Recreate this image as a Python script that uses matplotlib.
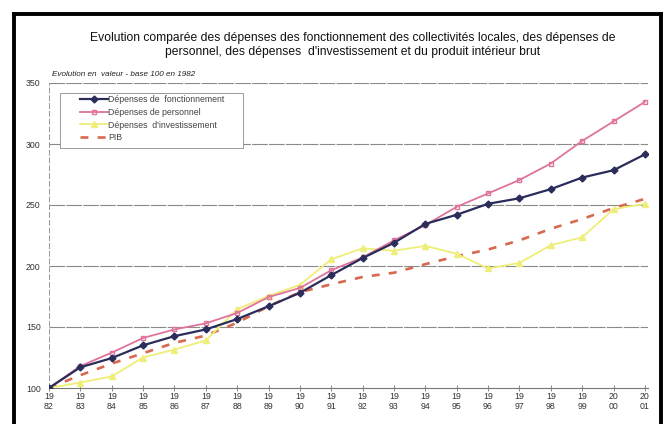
import matplotlib.pyplot as plt
from matplotlib.lines import Line2D
from matplotlib.patches import Rectangle

plt.rcParams['font.family'] = ['Liberation Sans', 'DejaVu Sans']

years = list(range(1982, 2002))
fonctionnement = [100, 117, 124.5, 135, 142.5, 148, 156.5, 167, 178, 192.5, 206.5, 219,
                  234.5, 242, 251, 255.5, 263, 272.5, 278.5, 291.5]
personnel = [100, 118, 129, 141, 148, 153, 161.5, 174.5, 182, 196.5, 207, 221,
             233.5, 248.5, 259.5, 270.5, 284, 302.5, 318.5, 334.5]
investissement = [100, 104.5, 109.5, 125, 131.5, 139, 164.5, 175.5, 184.5, 205.5, 214.5, 212.5,
                  216.5, 210, 198, 202.5, 217, 223.5, 246.5, 251]
pib = [100, 110.5, 120, 128.5, 137, 143, 153.5, 167, 178.5, 185, 191, 194.5,
       201.5, 208, 213.5, 221, 230.5, 238.5, 247.5, 255]

x_labels = [f"{str(y)[:2]}\n{str(y)[2:]}" for y in years]
y_ticks = [100, 150, 200, 250, 300, 350]

title = ("Evolution comparée des dépenses des fonctionnement des collectivités locales, des dépenses de\n"
         "personnel, des dépenses  d'investissement et du produit intérieur brut")
subtitle = "Evolution en  valeur - base 100 en 1982"
names = ["Dépenses de  fonctionnement", "Dépenses de personnel",
         "Dépenses  d'investissement", "PIB"]

c_fonc = "#2a2c5a"
c_pers = "#e0739c"
c_inv = "#eeee78"
c_pib = "#d8684e"

W, H = 664, 424
fig = plt.figure(figsize=(W / 100, H / 100), dpi=100)
ax = fig.add_axes([49 / W, 1 - 388 / H, 599 / W, 305 / H])

xs = list(range(len(years)))
ax.plot(xs, pib, color=c_pib, lw=1.9, ls=(0, (3, 3.5)), zorder=2)
ax.plot(xs, investissement, color=c_inv, lw=1.3, marker='^', ms=4, mfc=c_inv, mec=c_inv, zorder=3)
ax.plot(xs, personnel, color=c_pers, lw=1.3, marker='s', ms=3.5, mfc='none', mec=c_pers, mew=1, zorder=4)
ax.plot(xs, fonctionnement, color=c_fonc, lw=1.6, marker='D', ms=3.5, mfc=c_fonc, mec=c_fonc, zorder=5)

ax.set_xlim(0, 19.1)
ax.set_ylim(100, 350)
ax.set_yticks(y_ticks)
ax.set_yticklabels([str(v) for v in y_ticks], fontsize=6.3, color="#333333")
ax.set_xticks(xs)
ax.set_xticklabels(x_labels, fontsize=6.3, color="#333333", linespacing=1.1)
ax.tick_params(axis='x', direction='inout', length=4, width=0.6, color="#777777", pad=1)
ax.tick_params(axis='y', length=0, pad=6)

for v in y_ticks[1:]:
    ax.axhline(v, color="#8a8a8a", lw=0.8, ls=(0, (14, 1.2)), zorder=1)

for s in ['top', 'right']:
    ax.spines[s].set_visible(False)
ax.spines['left'].set_color("#999999")
ax.spines['left'].set_linewidth(0.7)
ax.spines['left'].set_linestyle((0, (5, 3)))
ax.spines['bottom'].set_color("#777777")
ax.spines['bottom'].set_linewidth(0.8)

# legend box and entries
fig.add_artist(Rectangle((60 / W, 1 - 148 / H), 183 / W, 55 / H, transform=fig.transFigure,
                         facecolor='white', edgecolor="#999999", lw=0.7, zorder=6))
handles = [
    Line2D([], [], color=c_fonc, lw=1.6, marker='D', ms=3.5),
    Line2D([], [], color=c_pers, lw=1.3, marker='s', ms=3.5, mfc='none'),
    Line2D([], [], color=c_inv, lw=1.3, marker='^', ms=4),
    Line2D([], [], color=c_pib, lw=1.9, ls=(0, (3, 3.5))),
]
leg = fig.legend(handles, names, loc='upper left', bbox_to_anchor=(77 / W, 1 - 92 / H),
                 fontsize=6.3, frameon=False, handlelength=3.2, handletextpad=0.1,
                 labelspacing=0.45, borderpad=0.3, borderaxespad=0)
leg.set_zorder(7)
for t in leg.get_texts():
    t.set_color("#444444")

fig.text(353 / W, 1 - 45 / H, title, ha='center', va='center', fontsize=8.7,
         color="#111111", linespacing=1.3)
fig.text(52 / W, 1 - 75 / H, subtitle, ha='left', va='center', fontsize=5.9,
         style='italic', color="#222222")

# outer frame
frame = dict(color="black", lw=2.8, transform=fig.transFigure, clip_on=False)
fig.add_artist(Line2D([14 / W, 14 / W], [0, 1 - 14 / H], **frame))
fig.add_artist(Line2D([14 / W, 661 / W], [1 - 14 / H, 1 - 14 / H], **frame))
fig.add_artist(Line2D([661 / W, 661 / W], [0, 1 - 14 / H], **frame))

fig.savefig("out.png", dpi=100)
